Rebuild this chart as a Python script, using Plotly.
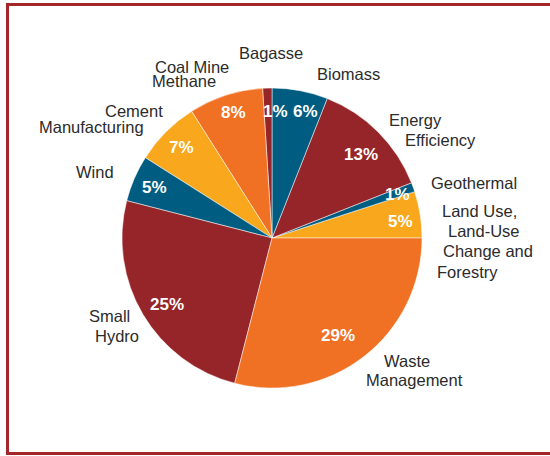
import math
import plotly.graph_objects as go

# ---- data ----
categories = ["Land Use, Land-Use Change and Forestry", "Geothermal", "Energy Efficiency",
              "Biomass", "Bagasse", "Coal Mine Methane", "Cement Manufacturing",
              "Wind", "Small Hydro", "Waste Management"]
values = [5, 1, 13, 6, 1, 8, 7, 5, 25, 29]
pct_labels = ["5%", "1%", "13%", "6%", "1%", "8%", "7%", "5%", "25%", "29%"]

# outside label lines (text only) and their pixel positions
label_lines = [
    ("Bagasse", 270.5, 53), ("Coal Mine", 192, 66.5), ("Methane", 183.5, 81.5),
    ("Biomass", 348.5, 74), ("Cement", 134, 111), ("Manufacturing", 91, 127.5),
    ("Wind", 95, 172), ("Energy", 415.5, 120), ("Efficiency", 440, 140),
    ("Geothermal", 473.5, 182.5), ("Land Use,", 479.5, 210.5), ("Land-Use", 484, 231),
    ("Change and", 488, 251), ("Forestry", 467, 271.5), ("Small", 109, 316),
    ("Hydro", 117, 336), ("Waste", 406.5, 361), ("Management", 414, 380),
]

# ---- style ----
W, H = 550, 456
colors = ["#F9A71C", "#005C80", "#96252A", "#005C80", "#96252A",
          "#F07124", "#F9A71C", "#005C80", "#96252A", "#F07124"]
cx, cy, R = 272, 238, 150
pct_r = [130, 133, 122, 131, 127, 131, 128, 128, 124.5, 117.6]
pct_dth = [-1.5, -0.9, -2, -4, -3.2, -0.7, -0.3, 0, 1.9, -3.4]
FONT = "Liberation Sans, Arial, sans-serif"

def px(x):
    return x / W

def py(y):
    return 1 - y / H

total = sum(values)
# plotly: for counterclockwise, the first slice ends at `rotation`; we want it to start at 3 o'clock
rotation = 90 - values[0] / total * 360

fig = go.Figure(go.Pie(
    labels=categories, values=values, sort=False,
    direction="counterclockwise", rotation=rotation,
    marker=dict(colors=colors, line=dict(color="white", width=0.5)),
    textinfo="none", hoverinfo="label+percent", showlegend=False,
    domain=dict(x=[px(cx - R), px(cx + R)], y=[py(cy + R), py(cy - R)]),
))

annotations = []
cum = 0
for v, t, r, dth in zip(values, pct_labels, pct_r, pct_dth):
    mid = (cum + v / 2) / total * 360 + dth
    cum += v
    x = cx + r * math.cos(math.radians(mid))
    y = cy - r * math.sin(math.radians(mid))
    annotations.append(dict(x=px(x), y=py(y), xref="paper", yref="paper", text=f"<b>{t}</b>",
                            showarrow=False, xanchor="center", yanchor="middle",
                            font=dict(family=FONT, size=17, color="white")))

for t, x, y in label_lines:
    annotations.append(dict(x=px(x), y=py(y), xref="paper", yref="paper", text=t,
                            showarrow=False, xanchor="center", yanchor="middle",
                            font=dict(family=FONT, size=16.5, color="#2b2b2b")))

fig.update_layout(
    width=W, height=H, margin=dict(l=0, r=0, t=0, b=0),
    paper_bgcolor="white", plot_bgcolor="white",
    annotations=annotations,
    shapes=[dict(type="rect", xref="paper", yref="paper",
                 x0=px(7.5), x1=1.05, y0=py(453.5), y1=py(4.5),
                 line=dict(color="#A3262B", width=3))],
)

fig.write_html("out.html")
